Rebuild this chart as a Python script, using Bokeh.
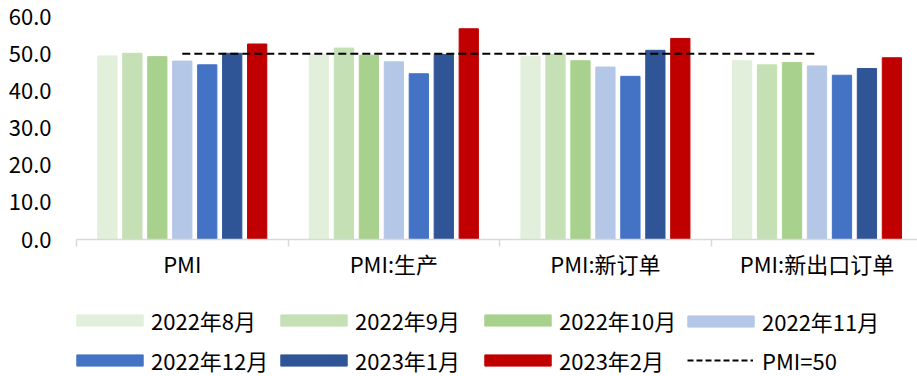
from bokeh.plotting import figure
from bokeh.layouts import column
from bokeh.models import ColumnDataSource, FixedTicker, Legend, LegendItem, Range1d, NumeralTickFormatter
from bokeh.transform import dodge
from bokeh.embed import file_html
from bokeh.resources import INLINE

categories = ["PMI", "PMI:生产", "PMI:新订单", "PMI:新出口订单"]
months = ["2022年8月", "2022年9月", "2022年10月", "2022年11月", "2022年12月", "2023年1月", "2023年2月"]
v_2022_08 = [49.4, 49.8, 49.2, 48.1]
v_2022_09 = [50.1, 51.5, 49.8, 47.0]
v_2022_10 = [49.2, 49.6, 48.1, 47.6]
v_2022_11 = [48.0, 47.8, 46.4, 46.7]
v_2022_12 = [47.0, 44.6, 43.9, 44.2]
v_2023_01 = [50.1, 49.8, 50.9, 46.0]
v_2023_02 = [52.6, 56.7, 54.1, 48.9]
threshold_label = "PMI=50"
threshold = [50, 50, 50, 50]
y_ticks = [0, 10, 20, 30, 40, 50, 60]

series = [v_2022_08, v_2022_09, v_2022_10, v_2022_11, v_2022_12, v_2023_01, v_2023_02]
colors = ["#E2EFDA", "#C5E0B4", "#A9D18E", "#B4C7E7", "#4472C4", "#2F5597", "#C00000"]

FONT = "Noto Sans CJK SC"
xs = [i + 0.5 for i in range(len(categories))]
data = {"x": xs}
for i, s in enumerate(series):
    data[f"s{i}"] = s
data["thr"] = threshold
src = ColumnDataSource(data)

step = 0.118
width = 0.091


def draw_series(fig, dash):
    rs = []
    for i in range(len(series)):
        rs.append(fig.vbar(x=dodge("x", (i - 3) * step), top=f"s{i}", width=width, source=src,
                           fill_color=colors[i], line_color=colors[i]))
    rs.append(fig.line(x="x", y="thr", source=src, line_color="black", line_width=2, line_dash=dash))
    return rs


# ---------------- main chart ----------------
p = figure(width=917, height=300,
           x_range=Range1d(0, 3.975), y_range=Range1d(0, 60),
           output_backend="svg", toolbar_location=None,
           min_border_left=76, min_border_right=0, min_border_top=16, min_border_bottom=61)
p.outline_line_color = None
p.xgrid.visible = False
p.ygrid.visible = False
p.background_fill_color = "white"
p.border_fill_color = "white"
draw_series(p, "8 4")

xa = p.xaxis[0]
xa.ticker = FixedTicker(ticks=xs, minor_ticks=[0, 1, 2, 3, 4])
xa.major_label_overrides = {x: c for x, c in zip(xs, categories)}
xa.axis_line_color = "#D9D9D9"
xa.axis_line_width = 1.5
xa.major_tick_line_color = None
xa.major_tick_out = 0
xa.major_tick_in = 0
xa.minor_tick_line_color = "#D9D9D9"
xa.minor_tick_line_width = 1.5
xa.minor_tick_out = 7
xa.minor_tick_in = 0
xa.major_label_text_font = FONT
xa.major_label_text_font_size = "22px"
xa.major_label_text_color = "black"
xa.major_label_standoff = 0

ya = p.yaxis[0]
ya.ticker = FixedTicker(ticks=y_ticks)
ya.formatter = NumeralTickFormatter(format="0.0")
ya.axis_line_color = None
ya.major_tick_line_color = None
ya.minor_tick_line_color = None
ya.major_label_text_font = FONT
ya.major_label_text_font_size = "22px"
ya.major_label_text_color = "black"
ya.major_label_standoff = 19

# ---------------- legend strip (frame aligned with the chart's frame) ----------------
lg = figure(width=917, height=76, x_range=Range1d(100, 101), y_range=Range1d(100, 101),
            output_backend="svg", toolbar_location=None,
            x_axis_location=None, y_axis_location=None,
            min_border_left=0, min_border_right=0, min_border_top=0, min_border_bottom=0)
lg.outline_line_color = None
lg.xgrid.visible = False
lg.ygrid.visible = False
lg.border_fill_color = "white"
proxies = draw_series(lg, "6 3")
labels = months + [threshold_label]

legend_style = dict(orientation="vertical", glyph_height=14, spacing=8, label_height=26,
                    padding=0, margin=0, border_line_color=None, background_fill_alpha=0,
                    label_text_font=FONT, label_text_font_size="22px", label_text_color="black")

# area swatches are drawn inset by 10% of the glyph box
col_x = [-8, 196, 400, 603]
for ci in range(4):
    its = [LegendItem(label=labels[ci], renderers=[proxies[ci]])]
    if ci + 4 < 7:
        its.append(LegendItem(label=labels[ci + 4], renderers=[proxies[ci + 4]]))
    lg.add_layout(Legend(items=its, location=(col_x[ci], 0 if len(its) == 2 else 39),
                         glyph_width=83, label_standoff=0, **legend_style), "center")

# dashed line item (no inset)
lg.add_layout(Legend(items=[LegendItem(label=labels[7], renderers=[proxies[7]])],
                     location=(611, 0), glyph_width=66, label_standoff=9, **legend_style), "center")

layout = column(p, lg, spacing=0)
open("out.html", "w").write(file_html(layout, INLINE))
